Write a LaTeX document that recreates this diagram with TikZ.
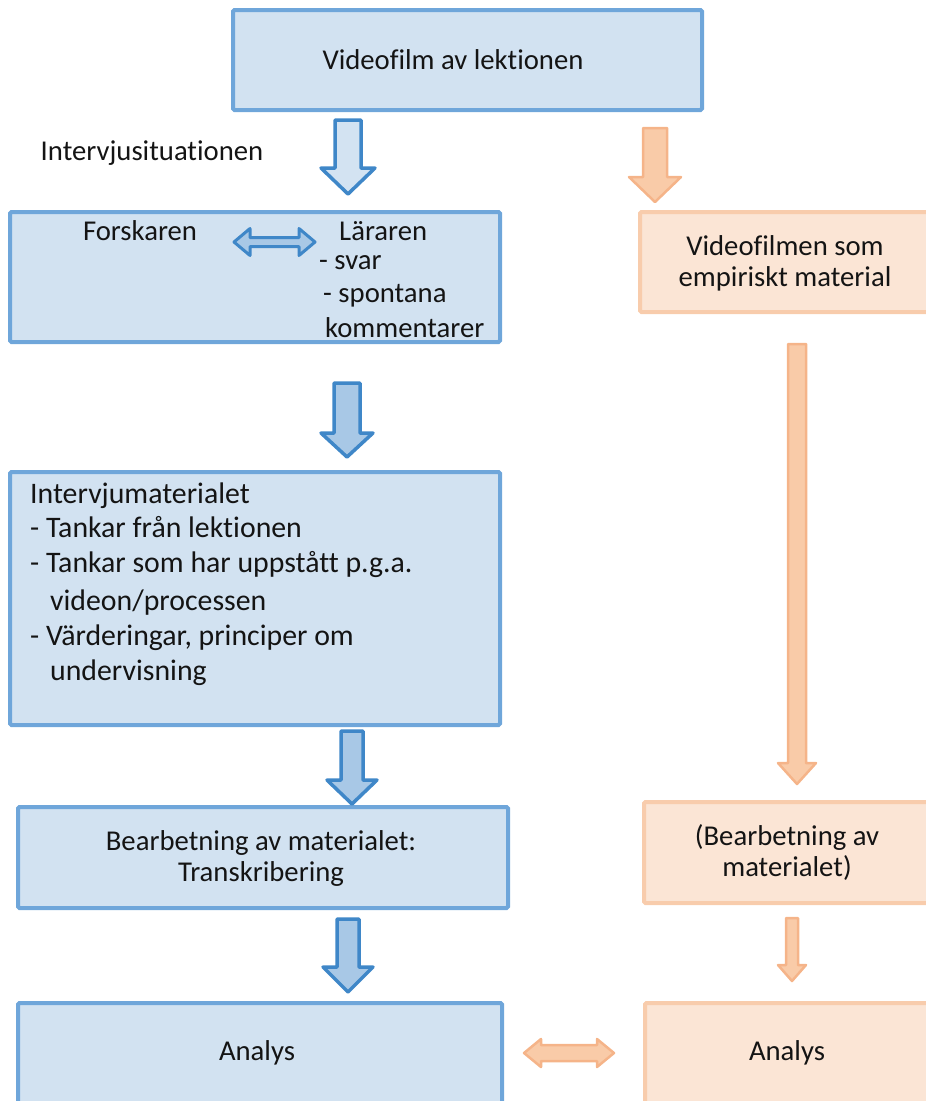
\documentclass[tikz,border=0pt]{standalone}
\usepackage{fontspec}
\setmainfont{Carlito}[RawFeature=-liga,RawFeature=-dlig,RawFeature=-calt,RawFeature=-clig]
\definecolor{boxblue}{HTML}{6FA6DA}
\definecolor{fillblue}{HTML}{D2E2F1}
\definecolor{arrblue}{HTML}{3F87C8}
\definecolor{arrfillA}{HTML}{D3E3F2}
\definecolor{arrfillB}{HTML}{A8C8E6}
\definecolor{boxorange}{HTML}{F8CCAC}
\definecolor{fillorange}{HTML}{FBE5D5}
\definecolor{arrorange}{HTML}{F5B489}
\definecolor{arrfillO}{HTML}{F9CBA8}
\definecolor{txtcol}{HTML}{141414}
% downward block arrow: style, centre x, top, head start, tip, shaft half width, head half width
\newcommand\blockdown[7]{%
  \draw[#1] (#2-#6,#3) -- (#2+#6,#3) -- (#2+#6,#4) -- (#2+#7,#4) -- (#2,#5)
    -- (#2-#7,#4) -- (#2-#6,#4) -- cycle;}
% horizontal two-headed block arrow: style, left x, right x, centre y, shaft half, head half, head length
\newcommand\blockboth[7]{%
  \draw[#1] (#2,#4) -- (#2+#7,#4-#6) -- (#2+#7,#4-#5) -- (#3-#7,#4-#5) -- (#3-#7,#4-#6)
    -- (#3,#4) -- (#3-#7,#4+#6) -- (#3-#7,#4+#5) -- (#2+#7,#4+#5) -- (#2+#7,#4+#6) -- cycle;}
\begin{document}
\begin{tikzpicture}[x=1pt,y=-1pt,
  bluebox/.style={draw=boxblue,line width=4pt,fill=fillblue,rounded corners=1.5pt,inner sep=0pt},
  orangebox/.style={draw=boxorange,line width=4pt,fill=fillorange,rounded corners=1.5pt,inner sep=0pt},
  txt/.style={font=\fontsize{28.7}{31}\selectfont,text=txtcol,inner sep=0pt},
  ltxt/.style={txt,anchor=base west,font=\fontsize{29.8}{31}\selectfont},
  barrA/.style={draw=arrblue,line width=3.5pt,fill=arrfillA,line join=round},
  barrB/.style={draw=arrblue,line width=3.5pt,fill=arrfillB,line join=round},
  oarr/.style={draw=arrorange,line width=2.5pt,fill=arrfillO,line join=round}]
\useasboundingbox (0,0) rectangle (926,1101);
\clip (0,0) rectangle (926,1101);

% left column boxes
\node[bluebox,minimum width=469pt,minimum height=100pt] (video) at (467.5,60) {};
\node[bluebox,minimum width=490pt,minimum height=130pt] (intervju) at (255,277) {};
\node[bluebox,minimum width=490pt,minimum height=253pt] (material) at (255,598.5) {};
\node[bluebox,minimum width=490pt,minimum height=101pt] (bearb) at (263,857.5) {};
\node[bluebox,minimum width=484pt,minimum height=130pt] (analysL) at (260,1068) {};

% right column boxes
\node[orangebox,minimum width=295pt,minimum height=100pt] (empiri) at (787.5,262) {};
\node[orangebox,minimum width=291pt,minimum height=101pt] (bearbR) at (789.5,852.5) {};
\node[orangebox,minimum width=290pt,minimum height=130pt] (analysR) at (790,1068) {};

% texts
\node[txt] (tVideo) at (453,60) {Videofilm av lektionen};
\node[txt] (tSit) at (152,153) {Intervjusituationen};
\node[txt] (tForsk) at (140,231) {Forskaren};
\node[txt,anchor=west] (tLar) at (339,231) {Läraren};
\node[txt,anchor=west] (tSvar) at (319,263) {- svar};
\node[txt,anchor=west] (tSpont) at (323,296) {- spontana};
\node[txt,anchor=west] (tKomm) at (325,328) {kommentarer};
\node[txt,align=center] (tEmp) at (785,263) {Videofilmen som\\empiriskt material};
\node[ltxt] (m1) at (30,503) {Intervjumaterialet};
\node[ltxt] (m2) at (30,537.5) {- Tankar från lektionen};
\node[ltxt] (m3) at (30,572.5) {- Tankar som har uppstått p.g.a.};
\node[ltxt] (m4) at (50,610) {videon/processen};
\node[ltxt] (m5) at (30,645) {- Värderingar, principer om};
\node[ltxt] (m6) at (50,680) {undervisning};
\node[txt,align=center] (tBearb) at (261,858.5) {Bearbetning av materialet:\\Transkribering};
\node[txt,align=center] (tBearbR) at (787,852.5) {(Bearbetning av\\materialet)};
\node[txt] (tAnL) at (257,1053) {Analys};
\node[txt] (tAnR) at (787,1053) {Analys};

% blue block arrows
\blockdown{barrA}{348}{120}{168}{194}{13}{27}
\blockdown{barrB}{347}{383}{433}{457}{13}{26}
\blockdown{barrB}{352}{731}{780}{804}{11}{25}
\blockdown{barrB}{348}{919}{967}{992}{11}{25}
\blockboth{draw=arrblue,line width=3pt,fill=arrfillB,line join=round}{234}{315}{242}{4.5}{13.5}{16}

% orange block arrows
\blockdown{oarr}{655}{128}{177}{202}{12}{26}
\blockdown{oarr}{797}{344}{763}{784}{9}{19}
\blockdown{oarr}{792}{918}{965}{981}{6}{14}
\blockboth{oarr}{524}{614}{1053}{8}{14}{17}
\end{tikzpicture}
\end{document}
